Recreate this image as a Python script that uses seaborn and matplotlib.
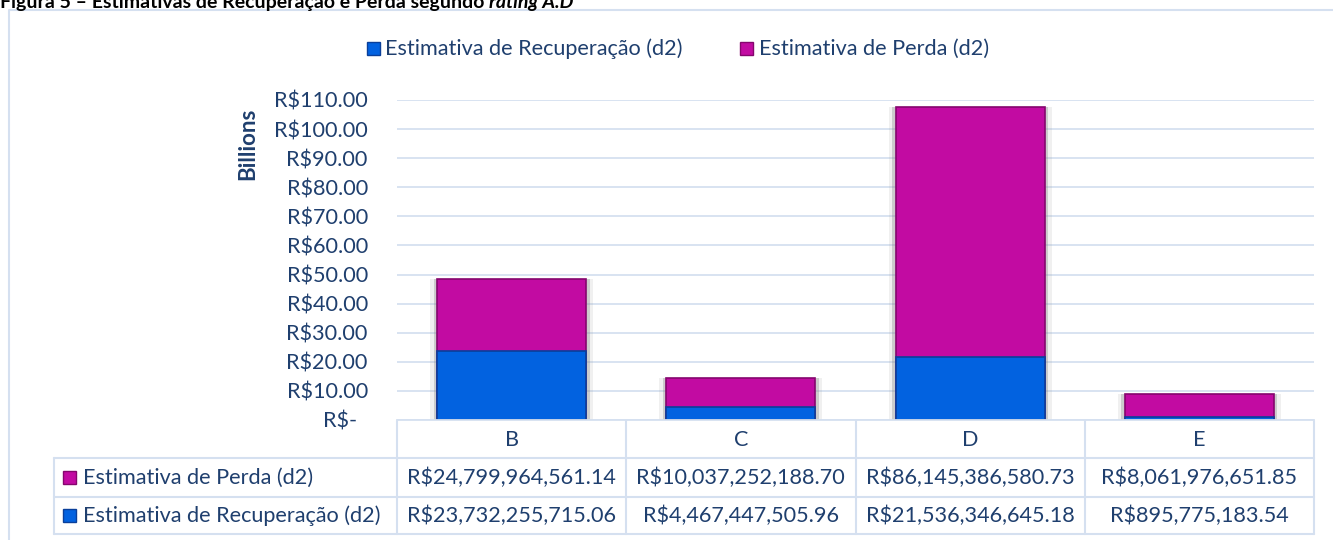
import matplotlib
matplotlib.use("Agg")
import matplotlib.pyplot as plt
import seaborn as sns
import pandas as pd
from matplotlib.patches import Rectangle

# dados (valores em R$)
categorias = ["B", "C", "D", "E"]
perda = [24799964561.14, 10037252188.70, 86145386580.73, 8061976651.85]
recuperacao = [23732255715.06, 4467447505.96, 21536346645.18, 895775183.54]
y_ticks = [0, 10, 20, 30, 40, 50, 60, 70, 80, 90, 100, 110]

nome_perda = "Estimativa de Perda (d2)"
nome_rec = "Estimativa de Recuperação (d2)"
titulo_1 = "Figura 5 – Estimativas de Recuperação e Perda segundo "
titulo_2 = "rating A.D"

AZUL = "#0262E0"
AZUL_BORDA = "#0A3F9A"
MAG = "#C20BA2"
MAG_BORDA = "#85066E"
TXT = "#1F3F6E"
GRADE = "#D5E0F0"
FS = 15.6

sns.set_theme(style="white")
plt.rcParams["font.family"] = ["Lato", "DejaVu Sans"]

df = pd.DataFrame({
    "rating": categorias,
    "rec": [v / 1e9 for v in recuperacao],
    "total": [(a + b) / 1e9 for a, b in zip(perda, recuperacao)],
})

W, H = 1333, 540
fig = plt.figure(figsize=(W / 100, H / 100), dpi=100)
fig.patch.set_facecolor("white")

x0, x1, y_top, y_bot = 397, 1314, 100, 420
ax = fig.add_axes([x0 / W, (H - y_bot) / H, (x1 - x0) / W, (y_bot - y_top) / H])

# sombra
sns.barplot(data=df, x="rating", y="total", color="#8A8A8A", width=0.71, alpha=0.12,
            saturation=1, errorbar=None, ax=ax, linewidth=0)
sns.barplot(data=df, x="rating", y="total", color="#7A7A7A", width=0.68, alpha=0.3,
            saturation=1, errorbar=None, ax=ax, linewidth=0)
# barras empilhadas
sns.barplot(data=df, x="rating", y="total", color=MAG, width=0.65, saturation=1,
            errorbar=None, ax=ax, edgecolor=MAG_BORDA, linewidth=1.2)
sns.barplot(data=df, x="rating", y="rec", color=AZUL, width=0.65, saturation=1,
            errorbar=None, ax=ax, edgecolor=AZUL_BORDA, linewidth=1.2)

ax.set_xlim(-0.5, len(categorias) - 0.5)
ax.set_ylim(0, 110)
ax.set_yticks(y_ticks)
ax.set_yticklabels(["R$-  "] + [f"R${v:.2f}" for v in y_ticks[1:]], color=TXT, fontsize=FS)
ax.tick_params(axis="y", length=0, pad=21)
ax.set_xticks([])
ax.set_xlabel("")
ax.set_ylabel("")
ax.set_axisbelow(True)
ax.yaxis.grid(True, color=GRADE, linewidth=1.3)
for s in ["top", "right", "left"]:
    ax.spines[s].set_visible(False)
ax.spines["bottom"].set_color(GRADE)
ax.spines["bottom"].set_linewidth(1.3)
ax.patch.set_alpha(0)

# camada de anotações em pixels
ov = fig.add_axes([0, 0, 1, 1])
ov.set_xlim(0, W)
ov.set_ylim(H, 0)
ov.axis("off")

# moldura do gráfico
ov.plot([9, 9, W], [H, 10, 10], color=GRADE, lw=1.5)

# título (cortado no topo, como na figura original)
t1 = ov.text(0, 8, titulo_1, fontsize=14, fontweight="bold", color="black", va="baseline")
fig.canvas.draw()
bb = t1.get_window_extent()
ov.text(bb.x1, 8, titulo_2, fontsize=14, fontweight="bold", style="italic",
        color="black", va="baseline")

# eixo y
ov.text(248, 144, "Billions", rotation=90, fontsize=16, fontweight="bold",
        color=TXT, ha="center", va="center")

# legenda
def quadrado(x, y, cor, borda):
    ov.add_patch(Rectangle((x, y), 13, 13, facecolor=cor, edgecolor=borda, lw=1))

quadrado(367, 42, AZUL, AZUL_BORDA)
ov.text(385, 48.5, nome_rec, fontsize=FS, color=TXT, va="center")
quadrado(740, 42, MAG, MAG_BORDA)
ov.text(759, 48.5, nome_perda, fontsize=FS, color=TXT, va="center")

# tabela de dados
col_w = (x1 - x0) / len(categorias)
bordas = [x0 + i * col_w for i in range(len(categorias) + 1)]
linhas_y = [421, 458, 497, 534]
tleft = 54
for xb in bordas:
    ov.plot([xb, xb], [linhas_y[0], linhas_y[-1]], color=GRADE, lw=1.5)
ov.plot([tleft, tleft], [linhas_y[1], linhas_y[-1]], color=GRADE, lw=1.5)
for yb in linhas_y[1:]:
    ov.plot([tleft, x1], [yb, yb], color=GRADE, lw=1.5)

cy_head = (linhas_y[0] + linhas_y[1]) / 2
cy_r1 = (linhas_y[1] + linhas_y[2]) / 2
cy_r2 = (linhas_y[2] + linhas_y[3]) / 2
for i, cat in enumerate(categorias):
    cx = (bordas[i] + bordas[i + 1]) / 2
    ov.text(cx, cy_head, cat, fontsize=FS, color=TXT, ha="center", va="center")
    ov.text(cx, cy_r1, f"R${perda[i]:,.2f}", fontsize=FS, color=TXT, ha="center", va="center")
    ov.text(cx, cy_r2, f"R${recuperacao[i]:,.2f}", fontsize=FS, color=TXT, ha="center", va="center")

quadrado(63, cy_r1 - 6.5, MAG, MAG_BORDA)
ov.text(83, cy_r1, nome_perda, fontsize=FS, color=TXT, va="center")
quadrado(63, cy_r2 - 6.5, AZUL, AZUL_BORDA)
ov.text(83, cy_r2, nome_rec, fontsize=FS, color=TXT, va="center")

fig.savefig("out.png", dpi=100, facecolor="white")
